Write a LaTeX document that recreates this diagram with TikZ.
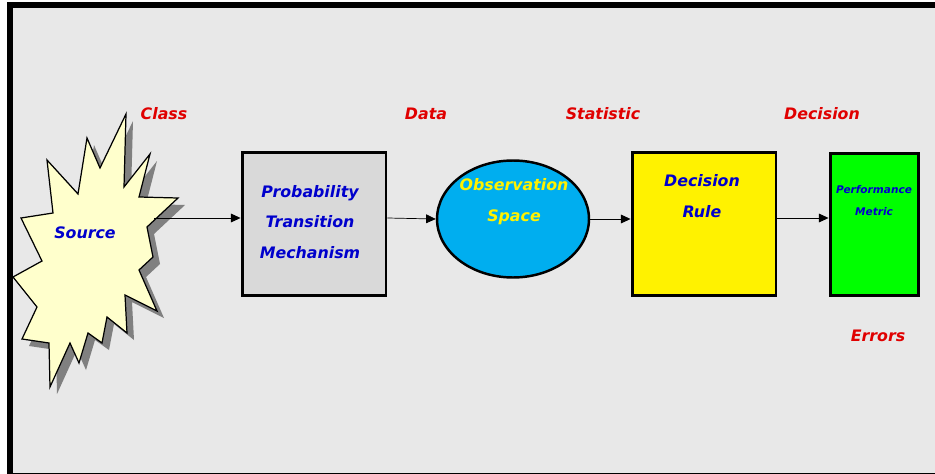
\documentclass[tikz,border=0pt]{standalone}
\usepackage{fontspec}
\setmainfont{DejaVu Sans}
\usetikzlibrary{arrows.meta,positioning,shapes.geometric}
\definecolor{hgrund}{RGB}{232,232,232}
\definecolor{boxgrau}{RGB}{217,217,217}
\definecolor{sterngelb}{RGB}{255,255,204}
\definecolor{schatten}{RGB}{128,128,128}
\definecolor{ellblau}{RGB}{0,174,239}
\definecolor{regelgelb}{RGB}{255,242,0}
\definecolor{metrikgruen}{RGB}{0,255,0}
\definecolor{tblau}{RGB}{0,0,204}
\definecolor{trot}{RGB}{224,0,0}
\tikzset{
  block/.style={draw=black,line width=1.7pt,minimum width=2.88cm,minimum height=2.88cm,inner sep=0pt},
  blautext/.style={text=tblau,font=\bfseries\itshape\fontsize{9}{17.5}\selectfont,align=center},
  rottext/.style={text=trot,font=\bfseries\itshape\fontsize{9}{11}\selectfont},
  pfeil/.style={-{Triangle[length=5.5pt,width=5pt]},thin},
  %Umriss der Quelle in Pixelkoordinaten
  sternumriss/.style={insert path={(126,114) -- (124,187) -- (150,154) -- (139,197) -- (178,198)
    -- (147,227) -- (153,257) -- (139,270) -- (157,311) -- (125,295) -- (127,333) -- (107,317)
    -- (102,343) -- (88,333) -- (79,363) -- (70,343) -- (50,387) -- (49,343) -- (22,339)
    -- (37,307) -- (13,277) -- (42,261) -- (21,218) -- (53,213) -- (47,160) -- (78,194)
    -- (87,138) -- (100,168) -- cycle}}
}
\begin{document}
\begin{tikzpicture}[x=0.02cm,y=-0.02cm]
\useasboundingbox (0,0) rectangle (935,473);
\clip (0,0) rectangle (935,473);
%Rahmen, rechts und unten abgeschnitten
\draw[fill=hgrund,line width=3.4pt] (10,5) rectangle (945,475.5);
%Quelle mit Schatten
\fill[schatten,shift={(7,7)},sternumriss];
\draw[fill=sterngelb,line width=0.7pt,sternumriss];
\node[blautext] (quelle) at (85,233) {Source};
\coordinate (qaus) at (154,218);
%Bloecke
\node[block,fill=boxgrau] (ptm) at (314,224) {};
\node[blautext] (ptmtext) at (310,222) {Probability\\Transition\\Mechanism};
\node[draw=black,line width=1.4pt,ellipse,fill=ellblau,minimum width=3.04cm,minimum height=2.34cm,inner sep=0pt] (obs) at (513,219) {};
\node[blautext,text=yellow] (obstext) at (514,202) {Observation\\Space};
\node[block,fill=regelgelb] (regel) at (704,224) {};
\node[blautext] (regeltext) at (702,196) {Decision\\Rule};
\node[block,fill=metrikgruen,minimum width=1.76cm,minimum height=2.86cm] (metrik) at (874,224.5) {};
\node[blautext,font=\bfseries\itshape\fontsize{6}{12.5}\selectfont] (metriktext) at (874,201) {Performance\\Metric};
%Verbindungen
\draw[pfeil] (qaus) -- (qaus -| ptm.west);
\draw[pfeil] (ptm.east |- qaus) -- (obs.west);
\draw[pfeil] (obs.east) -- (obs.east -| regel.west);
\draw[pfeil] (regel.east |- qaus) -- (qaus -| metrik.west);
%Beschriftungen
\node[rottext] (klasse) at (164,114) {Class};
\node[rottext] (daten) at (426,114) {Data};
\node[rottext] (statistik) at (603,114) {Statistic};
\node[rottext] (entscheidung) at (822,114) {Decision};
\node[rottext] (fehler) at (878,336) {Errors};
\end{tikzpicture}
\end{document}
